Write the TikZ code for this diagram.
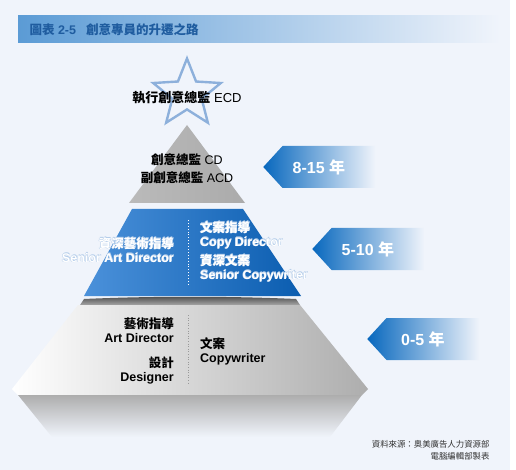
\documentclass[tikz,border=0pt]{standalone}
\usepackage{fontspec}
\setmainfont{Liberation Sans}
\newfontfamily\cjk{Noto Sans CJK TC}
\usetikzlibrary{shapes.geometric,shapes.symbols}

\definecolor{bg}{HTML}{F0F4FB}
\definecolor{titleblue}{HTML}{5B9BD5}
\definecolor{titletext}{HTML}{1F5C9F}
\definecolor{starblue}{HTML}{8DB0DB}
\definecolor{tierblue}{HTML}{0B5DB0}
\definecolor{tierlight}{HTML}{4B91DA}
\definecolor{tagblue}{HTML}{0868BE}
\definecolor{glowblue}{HTML}{B4CDEA}
\definecolor{note}{HTML}{333333}

\newcommand{\glowline}[1]{\rlap{\raisebox{.5pt}{\color{glowblue}\kern.5pt #1}}\rlap{\raisebox{-.5pt}{\color{glowblue}\kern-.5pt #1}}#1}

\tikzset{
	tiertext/.style={font=\bfseries\fontsize{12.5}{14}\selectfont, inner sep=0pt},
	yeartag/.style={signal, signal to=west, signal pointer angle=95, minimum width=112pt, minimum height=42pt, inner sep=0pt, left color=tagblue, middle color=tagblue!55!bg, right color=bg, text=white, font=\bfseries\fontsize{16}{16}\selectfont},
}

\begin{document}
\begin{tikzpicture}[x=1pt,y=-1pt]
	\useasboundingbox (0,0) rectangle (516,470);
	\fill[white] (0,0) rectangle (516,470);
	\fill[bg] (0,0) rectangle (510,470);
	\shade[left color=titleblue, right color=bg] (18,16) rectangle (500,43);
	\node[anchor=west, text=titletext, font=\bfseries\fontsize{12.5}{13}\selectfont] (title) at (26,29.5) {{\cjk 圖表} 2-5\hspace{10pt}{\cjk 創意專員的升遷之路}};

	\node[star, star points=5, star point ratio=2.3, draw=starblue, line width=2.4pt, minimum size=71pt, inner sep=0pt] (ecdstar) at (187,94) {};
	\node[font=\fontsize{13}{13}\selectfont] (ecd) at (187,97.5) {{\cjk\bfseries 執行創意總監} ECD};

	\shade[left color=black!27, middle color=black!8, right color=black!33] (187,125) -- (245,203) -- (129,203) -- cycle;
	\node[align=center, font=\fontsize{12.5}{18}\selectfont] (cd) at (187,169) {{\cjk\bfseries 創意總監} CD\\{\cjk\bfseries 副創意總監} ACD};

	\shade[left color=tierlight, right color=tierblue] (132,209) -- (243,209) -- (301,296) -- (84,296) -- cycle;
	\draw[white, dotted, line width=0.9pt] (188,220) -- (188,285);
	\node[tiertext, text=white, anchor=east, align=right] (sad) at (174,250) {\glowline{\cjk 資深藝術指導}\\\glowline{Senior Art Director}};
	\node[tiertext, text=white, anchor=west, align=left] (cdir) at (200,235) {\glowline{\cjk 文案指導}\\\glowline{Copy Director}};
	\node[tiertext, text=white, anchor=west, align=left] (scw) at (200,268) {\glowline{\cjk 資深文案}\\\glowline{Senior Copywriter}};

	\shade[top color=black!70, bottom color=black!35] (80,305) -- (84,299) .. controls (150,296) and (230,296) .. (296,299) -- (300,305) -- cycle;
	\shade[left color=white, right color=black!32] (78,305) -- (300,305) -- (368,389) -- (362,395) -- (18,395) -- (12,389) -- cycle;
	\shade[top color=black!32, bottom color=bg] (18,395) -- (362,395) -- (330,437) -- (52,437) -- cycle;
	\draw[black!40, dotted, line width=0.6pt] (188,315) -- (188,384);
	\node[tiertext, anchor=east, align=right] (ad) at (174,330) {{\cjk 藝術指導}\\Art Director};
	\node[tiertext, anchor=east, align=right] (des) at (174,370) {{\cjk 設計}\\Designer};
	\node[tiertext, anchor=west, align=left] (cw) at (200,351) {{\cjk 文案}\\Copywriter};

	\node[yeartag, anchor=west] (y1) at (263,167) {8-15 {\cjk 年}\hspace*{20pt}};
	\node[yeartag, anchor=west] (y2) at (312,249) {5-10 {\cjk 年}\hspace*{20pt}};
	\node[yeartag, anchor=west] (y3) at (367,339) {0-5 {\cjk 年}\hspace*{20pt}};

	\node[anchor=east, align=right, text=note, font=\fontsize{8.4}{12}\selectfont\cjk] (source) at (493,450) {資料來源：奧美廣告人力資源部\\電腦編輯部製表};
\end{tikzpicture}
\end{document}
